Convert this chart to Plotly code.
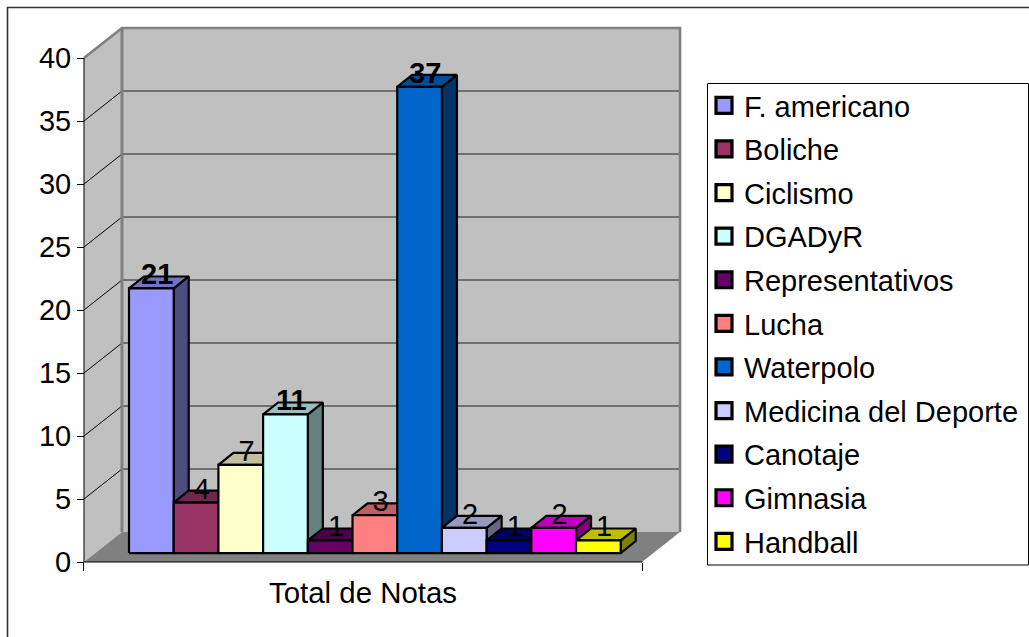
import plotly.graph_objects as go

categories = ["F. americano", "Boliche", "Ciclismo", "DGADyR", "Representativos", "Lucha",
              "Waterpolo", "Medicina del Deporte", "Canotaje", "Gimnasia", "Handball"]
values = [21, 4, 7, 11, 1, 3, 37, 2, 1, 2, 1]
colors = ["#9999FF", "#993366", "#FFFFCC", "#CCFFFF", "#660066", "#FF8080",
          "#0066CC", "#CCCCFF", "#000080", "#FF00FF", "#FFFF00"]
y_ticks = [0, 5, 10, 15, 20, 25, 30, 35, 40]
x_label = "Total de Notas"

FONT = "Liberation Sans"
FS = 29
W, H = 1029, 637
# 3-D projection, in axis units (slots on x, value units on y)
FLOOR_L, FLOOR_R = -1.007, 11.477
WALL_DX, WALL_DY = 0.85, 2.38
BAR_DX, BAR_DY = 0.336, 0.95
BASE = 0.71
X_RANGE = [-2.886, 20.134]
Y_RANGE = [-5.952, 44.603]


def shade(hex_color, k):
    r, g, b = (int(hex_color[i:i + 2], 16) for i in (1, 3, 5))
    return f"rgb({round(r * k)},{round(g * k)},{round(b * k)})"


def poly(xs, ys, fill, line="rgba(0,0,0,0)", width=0):
    return go.Scatter(x=xs + xs[:1], y=ys + ys[:1], mode="lines", fill="toself", fillcolor=fill,
                      line=dict(color=line, width=width), showlegend=False, hoverinfo="skip")


def seg(xs, ys, color, width):
    return go.Scatter(x=xs, y=ys, mode="lines", line=dict(color=color, width=width),
                      showlegend=False, hoverinfo="skip")


fig = go.Figure()
top = y_ticks[-1]
# walls and floor
fig.add_trace(poly([FLOOR_L, FLOOR_L + WALL_DX, FLOOR_L + WALL_DX, FLOOR_L],
                   [0, WALL_DY, top + WALL_DY, top], "#C0C0C0"))
fig.add_trace(poly([FLOOR_L + WALL_DX, FLOOR_R + WALL_DX, FLOOR_R + WALL_DX, FLOOR_L + WALL_DX],
                   [WALL_DY, WALL_DY, top + WALL_DY, top + WALL_DY], "#C0C0C0"))
fig.add_trace(poly([FLOOR_L, FLOOR_R, FLOOR_R + WALL_DX, FLOOR_L + WALL_DX],
                   [0, 0, WALL_DY, WALL_DY], "#808080"))
# gridlines
for t in y_ticks[1:-1]:
    fig.add_trace(seg([FLOOR_L, FLOOR_L + WALL_DX], [t, t + WALL_DY], "#000000", 1))
    fig.add_trace(seg([FLOOR_L + WALL_DX, FLOOR_R + WALL_DX], [t + WALL_DY, t + WALL_DY], "#555555", 1.6))
# wall edges
fig.add_trace(seg([FLOOR_L, FLOOR_L + WALL_DX, FLOOR_R + WALL_DX, FLOOR_R + WALL_DX],
                  [top, top + WALL_DY, top + WALL_DY, WALL_DY], "#808080", 2.6))
fig.add_trace(seg([FLOOR_L + WALL_DX, FLOOR_L + WALL_DX], [top + WALL_DY, WALL_DY], "#808080", 3))
# axis lines
fig.add_trace(seg([FLOOR_L, FLOOR_L], [0, top], "#000000", 1))
fig.add_trace(seg([FLOOR_L, FLOOR_R], [0, 0], "#000000", 1))

# bars, painted left to right
for i, (v, c) in enumerate(zip(values, colors)):
    x0, x1, y0, y1 = i, i + 1, BASE, BASE + v
    fig.add_trace(poly([x1, x1 + BAR_DX, x1 + BAR_DX, x1],
                       [y0, y0 + BAR_DY, y1 + BAR_DY, y1], shade(c, 0.5), "#000000", 2.2))
    fig.add_trace(poly([x0, x1, x1 + BAR_DX, x0 + BAR_DX],
                       [y1, y1, y1 + BAR_DY, y1 + BAR_DY], shade(c, 0.75), "#000000", 2.2))
    fig.add_trace(poly([x0, x1, x1, x0], [y0, y0, y1, y1], c, "#000000", 2.2))

# value labels
fig.add_trace(go.Scatter(
    x=[i + 0.63 for i in range(len(values))],
    y=[v + BASE + 0.9 for v in values],
    mode="text", text=[str(v) for v in values], textposition="middle center",
    textfont=dict(family=FONT, size=FS, color="#000000",
                  weight=[700 if v >= 10 else 400 for v in values]),
    showlegend=False, hoverinfo="skip"))

# axis title
fig.add_trace(go.Scatter(x=[(FLOOR_L + FLOOR_R) / 2], y=[-2.65], mode="text", text=[x_label],
                         textposition="middle center",
                         textfont=dict(family=FONT, size=29.4, color="#000000"),
                         showlegend=False, hoverinfo="skip"))

# legend entries
for name, c in zip(categories, colors):
    fig.add_trace(go.Scatter(x=[None], y=[None], mode="markers", name=name, legendgroup=name,
                             marker=dict(symbol="square", size=16, color=c,
                                         line=dict(color="#000000", width=3.2))))

fig.update_layout(
    width=W, height=H, margin=dict(l=0, r=0, t=0, b=0, pad=0, autoexpand=False),
    paper_bgcolor="#FFFFFF", plot_bgcolor="#FFFFFF",
    font=dict(family=FONT, size=FS, color="#000000"),
    hovermode=False,
    xaxis=dict(range=X_RANGE, domain=[0, 1], anchor="free", position=1 - 562 / H,
               tickmode="array", tickvals=[FLOOR_L, FLOOR_R], ticktext=["", ""],
               ticks="outside", ticklen=8, tickwidth=1, tickcolor="#000000",
               showgrid=False, zeroline=False, showline=False),
    yaxis=dict(range=Y_RANGE, domain=[0, 1], anchor="free", position=84 / W,
               tickmode="array", tickvals=y_ticks, ticktext=[str(t) for t in y_ticks],
               ticks="outside", ticklen=7, tickwidth=1, tickcolor="#000000",
               tickfont=dict(family=FONT, size=FS, color="#000000"),
               showgrid=False, zeroline=False, showline=False),
    legend=dict(x=704 / W, y=1 - 80 / H, xanchor="left", yanchor="top",
                bgcolor="rgba(0,0,0,0)", borderwidth=0,
                tracegroupgap=2.9, traceorder="grouped",
                font=dict(family=FONT, size=FS, color="#000000")),
    shapes=[dict(type="rect", xref="paper", yref="paper", x0=7.5 / W, x1=1.2, y0=-0.2, y1=1 - 7.5 / H,
                 line=dict(color="#333333", width=1.6), fillcolor="rgba(0,0,0,0)", layer="below"),
            dict(type="rect", xref="paper", yref="paper", x0=707.5 / W, x1=1028.5 / W,
                 y0=1 - 565 / H, y1=1 - 83.5 / H,
                 line=dict(color="#000000", width=1), fillcolor="#FFFFFF", layer="below")],
)
fig.write_html("out.html", config=dict(displayModeBar=False),
               post_script="document.body.style.margin='0';document.body.style.overflow='hidden';")
